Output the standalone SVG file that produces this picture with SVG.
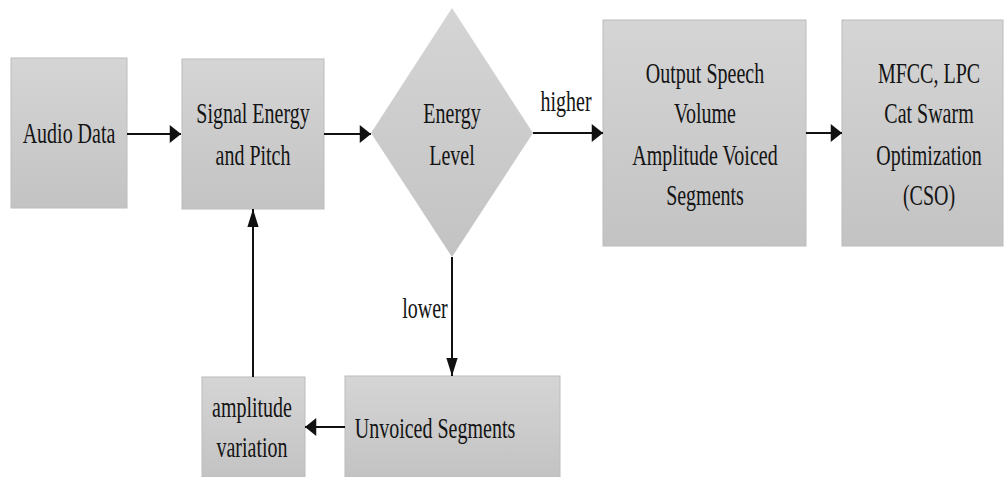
<svg xmlns="http://www.w3.org/2000/svg" width="1006" height="477" viewBox="0 0 1006 477">
  <defs>
    <linearGradient id="boxFill" x1="0" y1="0" x2="0" y2="1">
      <stop offset="0" stop-color="#d5d5d5"/>
      <stop offset="1" stop-color="#c3c3c3"/>
    </linearGradient>
    <!-- arrowheads: horizontal runs are short and tall, vertical runs long and narrow -->
    <marker id="headH" markerUnits="userSpaceOnUse" markerWidth="12" markerHeight="18" viewBox="0 0 10 16" refX="10" refY="8" orient="auto">
      <path d="M0,0 L10,8 L0,16 Z" fill="#111"/>
    </marker>
    <marker id="headV" markerUnits="userSpaceOnUse" markerWidth="18" markerHeight="12" viewBox="0 0 16 10" refX="16" refY="5" orient="auto">
      <path d="M0,0 L16,5 L0,10 Z" fill="#111"/>
    </marker>
  </defs>
  <style>
    .box { fill: url(#boxFill); stroke: #bcbcbc; stroke-width: 1; }
    .diamond { fill: url(#boxFill); stroke: none; }
    .lbl { font-family: "Liberation Serif", "Times New Roman", serif; font-size: 20px; fill: #141414; text-anchor: middle; }
    .edge { stroke: #111; stroke-width: 2; fill: none; }
  </style>

  <rect width="1006" height="477" fill="#ffffff"/>

  <g id="audio-data">
    <rect class="box" x="11" y="58" width="116" height="150"/>
    <text class="lbl" transform="translate(69,143) scale(1,1.5)">Audio Data</text>
  </g>

  <g id="signal-energy-pitch">
    <rect class="box" x="182" y="59" width="142" height="150"/>
    <text class="lbl" transform="translate(253,123) scale(1,1.5)">Signal Energy</text>
    <text class="lbl" transform="translate(253,165) scale(1,1.5)">and Pitch</text>
  </g>

  <g id="energy-level">
    <polygon class="diamond" points="452,8 533,133 452,257 371,133"/>
    <text class="lbl" transform="translate(452,123) scale(1,1.5)">Energy</text>
    <text class="lbl" transform="translate(452,165) scale(1,1.5)">Level</text>
  </g>

  <g id="voiced-output">
    <rect class="box" x="603" y="20" width="203" height="226"/>
    <text class="lbl" transform="translate(705,83) scale(1,1.5)">Output Speech</text>
    <text class="lbl" transform="translate(705,123) scale(1,1.5)">Volume</text>
    <text class="lbl" transform="translate(705,165) scale(1,1.5)">Amplitude Voiced</text>
    <text class="lbl" transform="translate(705,205) scale(1,1.5)">Segments</text>
  </g>

  <g id="features-cso">
    <rect class="box" x="842" y="20" width="161" height="226"/>
    <text class="lbl" transform="translate(929,83) scale(1,1.5)">MFCC, LPC</text>
    <text class="lbl" transform="translate(929,123) scale(1,1.5)">Cat Swarm</text>
    <text class="lbl" transform="translate(929,165) scale(1,1.5)">Optimization</text>
    <text class="lbl" transform="translate(929,205) scale(1,1.5)">(CSO)</text>
  </g>

  <g id="unvoiced-segments">
    <rect class="box" x="345" y="376" width="215" height="101"/>
    <text class="lbl" transform="translate(435,438) scale(1,1.5)">Unvoiced Segments</text>
  </g>

  <g id="amplitude-variation">
    <rect class="box" x="202" y="377" width="103" height="100"/>
    <text class="lbl" transform="translate(252,417) scale(1,1.5)">amplitude</text>
    <text class="lbl" transform="translate(252,457) scale(1,1.5)">variation</text>
  </g>

  <g id="connectors">
    <line class="edge" x1="127" y1="134" x2="181" y2="134" marker-end="url(#headH)"/>
    <line class="edge" x1="324" y1="134" x2="371" y2="134" marker-end="url(#headH)"/>
    <line class="edge" x1="533" y1="133" x2="603" y2="133" marker-end="url(#headH)"/>
    <line class="edge" x1="806" y1="133" x2="842" y2="133" marker-end="url(#headH)"/>
    <line class="edge" x1="452" y1="257" x2="452" y2="376" marker-end="url(#headV)"/>
    <line class="edge" x1="345" y1="427" x2="305" y2="427" marker-end="url(#headH)"/>
    <line class="edge" x1="253" y1="377" x2="253" y2="209" marker-end="url(#headV)"/>
    <text class="lbl" transform="translate(566,111) scale(1,1.5)">higher</text>
    <text class="lbl" transform="translate(425,318) scale(1,1.5)">lower</text>
  </g>
</svg>
